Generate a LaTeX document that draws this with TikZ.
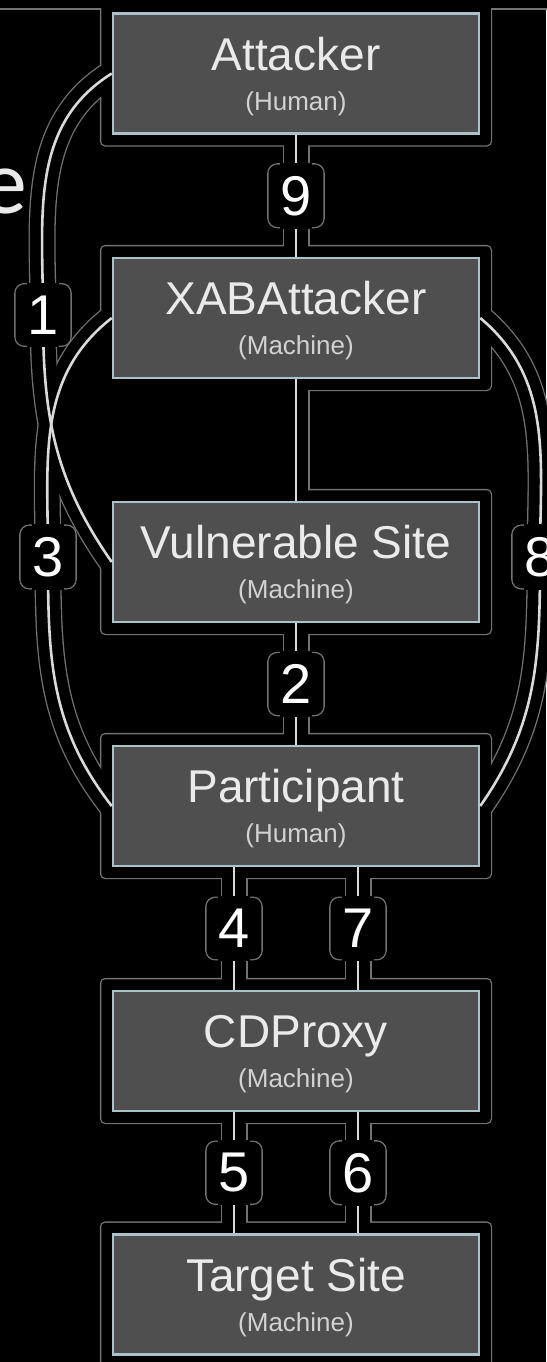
\documentclass[tikz,border=0pt]{standalone}
\usepackage{fontspec}
\setmainfont{Liberation Sans}
\newfontfamily\slidefont{Carlito}
\usetikzlibrary{calc}

\pgfdeclarelayer{halogray}
\pgfdeclarelayer{haloblack}
\pgfsetlayers{halogray,haloblack,main}

\definecolor{boxfill}{HTML}{4F4F4F}
\definecolor{boxedge}{HTML}{A9C3C9}
\definecolor{wirecol}{HTML}{DADADA}
\definecolor{glowline}{HTML}{727272}
\definecolor{titletext}{HTML}{EAEAEA}
\definecolor{subtext}{HTML}{D2D2D2}

\tikzset{
  x=1pt, y=1pt,
  box/.style={draw=boxedge, line width=2.5pt, fill=boxfill,
    minimum width=366pt, minimum height=120pt, inner sep=0pt},
  ttl/.style={anchor=base, text=titletext, inner sep=0pt,
    font=\fontsize{46}{50}\selectfont},
  sub/.style={anchor=base, text=subtext, inner sep=0pt,
    font=\fontsize{26}{30}\selectfont},
  wire/.style={draw=wirecol, line width=2.6pt},
  num/.style={fill=black, text=white, inner xsep=0pt, inner ysep=13pt,
    font=\fontsize{56}{60}\selectfont},
  glowA/.style={draw=glowline, line width=27pt},
  glowB/.style={draw=black, line width=24.4pt},
}

% every connector, drawn with the style given as argument
\newcommand\wireset[1]{%
  \draw[#1] (A.south) -- (X.north);
  \draw[#1] (X.south) -- (V.north);
  \draw[#1] (V.south) -- (P.north);
  \draw[#1] ([xshift=-62]P.south) -- ([xshift=-62]C.north);
  \draw[#1] ([xshift=62]P.south) -- ([xshift=62]C.north);
  \draw[#1] ([xshift=-62]C.south) -- ([xshift=-62]T.north);
  \draw[#1] ([xshift=62]C.south) -- ([xshift=62]T.north);
  \draw[#1] (A.west) to[out=212,in=90] (k1) to[out=-90,in=125] (V.west);
  \draw[#1] (X.west) to[out=218,in=90] (k3) to[out=-90,in=128] (P.west);
  \draw[#1] (X.east) to[out=-40,in=90] (k8) to[out=-90,in=55] (P.east);
}

\begin{document}
\begin{tikzpicture}
\useasboundingbox (0,0) rectangle (546,-1362);
\clip (0,0) rectangle (546,-1362);

% boxes
\node[box] (A) at (296,-73.5) {};
\node[box] (X) at (296,-318) {};
\node[box] (V) at (296,-562) {};
\node[box] (P) at (296,-806) {};
\node[box] (C) at (296,-1051) {};
\node[box] (T) at (296,-1294.5) {};

% box captions
\node[ttl] (At) at ([yshift=-58]A.north) {Attacker};
\node[sub] (As) at ([yshift=-98]A.north) {(Human)};
\node[ttl] (Xt) at ([yshift=-58]X.north) {XABAttacker};
\node[sub] (Xs) at ([yshift=-98]X.north) {(Machine)};
\node[ttl] (Vt) at ([yshift=-58]V.north) {Vulnerable Site};
\node[sub] (Vs) at ([yshift=-98]V.north) {(Machine)};
\node[ttl] (Pt) at ([yshift=-58]P.north) {Participant};
\node[sub] (Ps) at ([yshift=-98]P.north) {(Human)};
\node[ttl] (Ct) at ([yshift=-58]C.north) {CDProxy};
\node[sub] (Cs) at ([yshift=-98]C.north) {(Machine)};
\node[ttl] (Tt) at ([yshift=-58]T.north) {Target Site};
\node[sub] (Ts) at ([yshift=-98]T.north) {(Machine)};

% bend points of the side curves
\coordinate (k1) at (43,-315);
\coordinate (k3) at (48,-557);
\coordinate (k8) at (540,-557);

% connectors
\wireset{wire}

% step numbers
\node[num] (n9) at ($(A.south)!0.5!(X.north)$) {9};
\node[num] (n2) at ($(V.south)!0.5!(P.north)$) {2};
\node[num] (n4) at ($([xshift=-62]P.south)!0.5!([xshift=-62]C.north)$) {4};
\node[num] (n7) at ($([xshift=62]P.south)!0.5!([xshift=62]C.north)$) {7};
\node[num] (n5) at ($([xshift=-62]C.south)!0.5!([xshift=-62]T.north)$) {5};
\node[num] (n6) at ($([xshift=62]C.south)!0.5!([xshift=62]T.north)$) {6};
\node[num] (n1) at (k1) {1};
\node[num] (n3) at (k3) {3};
\node[num] (n8) at (k8) {8};

% cut-off slide text
\node[anchor=base east, inner sep=0pt, text=titletext,
  font=\slidefont\fontsize{92}{96}\selectfont] (word) at (27,-213) {e};

% outer glow: grey ring round the union of all shapes
\begin{pgfonlayer}{halogray}
  \fill[black] (0,0) rectangle (546,-1362);
  \fill[glowline] (-20,20) rectangle (566,-9.6);
  \foreach \b in {A,X,V,P,C,T}
    \fill[glowline, rounded corners=5pt] ([shift={(-11.8,11.8)}]\b.north west)
      rectangle ([shift={(11.8,-11.8)}]\b.south east);
  \wireset{glowA}
  \foreach \n in {n1,n2,n3,n4,n5,n6,n7,n8,n9}
    \fill[glowline, rounded corners=10pt] ([shift={(-13,-0.5)}]\n.north west)
      rectangle ([shift={(13,0.5)}]\n.south east);
\end{pgfonlayer}

\begin{pgfonlayer}{haloblack}
  \fill[black] (-20,20) rectangle (566,-8.3);
  \foreach \b in {A,X,V,P,C,T}
    \fill[black, rounded corners=4pt] ([shift={(-10.5,10.5)}]\b.north west)
      rectangle ([shift={(10.5,-10.5)}]\b.south east);
  \wireset{glowB}
  \foreach \n in {n1,n2,n3,n4,n5,n6,n7,n8,n9}
    \fill[black, rounded corners=9pt] ([shift={(-11.7,-1.8)}]\n.north west)
      rectangle ([shift={(11.7,1.8)}]\n.south east);
  % enclosed area between the crossing curves and the column
  \begin{scope}
    \clip (A.west) to[out=212,in=90] (k1) to[out=-90,in=125] (V.west) -- cycle;
    \fill[black] (X.west) to[out=218,in=90] (k3) to[out=-90,in=128] (P.west) -- cycle;
  \end{scope}
  \fill[black] (X.south west) rectangle (V.north);
\end{pgfonlayer}
\end{tikzpicture}
\end{document}
